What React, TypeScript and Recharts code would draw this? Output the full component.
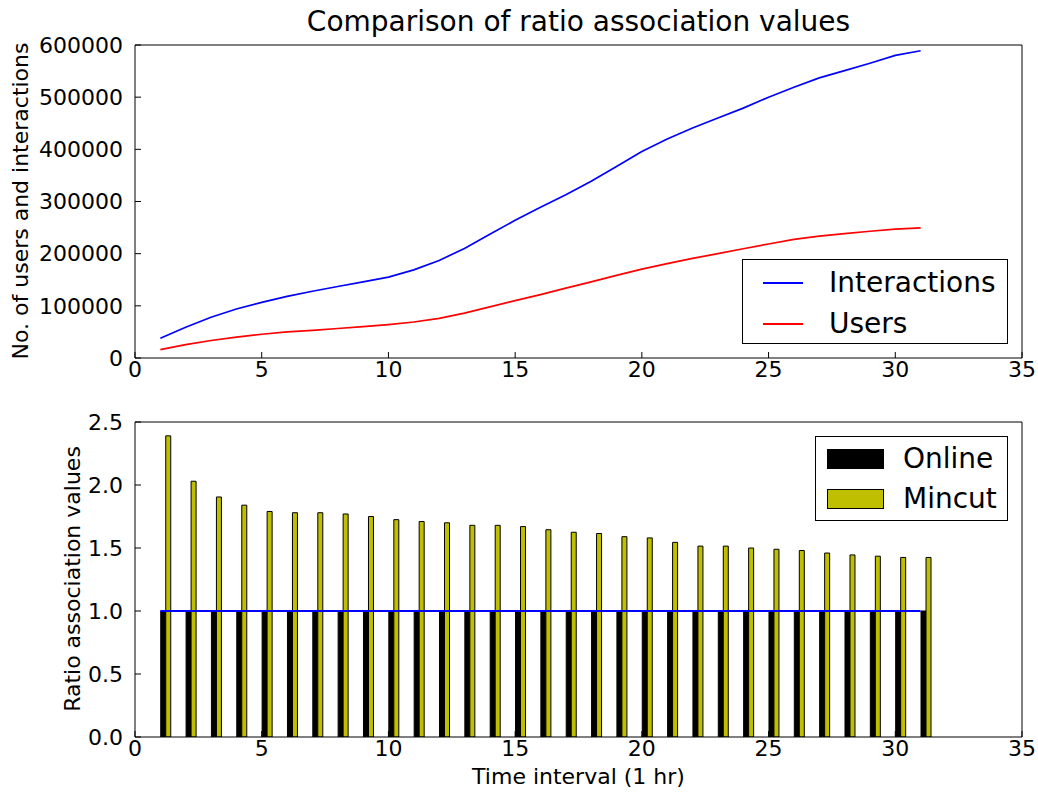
import React from "react";
import { ComposedChart, Line, Bar, XAxis, YAxis, Legend } from "recharts";

const hours = [1, 2, 3, 4, 5, 6, 7, 8, 9, 10, 11, 12, 13, 14, 15, 16, 17, 18, 19, 20, 21, 22, 23, 24, 25, 26, 27, 28, 29, 30, 31];

const interactions = [
  38000, 59000, 78000, 94000, 106500, 118000, 128000, 137000, 146000, 155000,
  169000, 187000, 210000, 237000, 264000, 289000, 313000, 339000, 367000, 396000,
  420000, 441000, 460000, 479000, 500000, 519000, 537000, 551000, 565000, 580000, 589000,
];

const users = [
  16000, 25500, 33500, 40000, 45500, 50000, 53000, 56500, 60000, 64000,
  69000, 76000, 86000, 98000, 110000, 121500, 134000, 146000, 158500, 170500,
  181000, 191000, 200000, 209500, 218500, 227500, 233500, 238500, 243000, 247000, 249500,
];

const online = [1, 1, 1, 1, 1, 1, 1, 1, 1, 1, 1, 1, 1, 1, 1, 1, 1, 1, 1, 1, 1, 1, 1, 1, 1, 1, 1, 1, 1, 1, 1];

const mincut = [
  2.39, 2.03, 1.905, 1.84, 1.79, 1.78, 1.78, 1.77, 1.75, 1.725,
  1.71, 1.7, 1.68, 1.68, 1.67, 1.645, 1.625, 1.615, 1.59, 1.58,
  1.545, 1.515, 1.515, 1.5, 1.49, 1.48, 1.46, 1.445, 1.435, 1.425, 1.425,
];

const xTicks = [0, 5, 10, 15, 20, 25, 30, 35];
const countTicks = [0, 100000, 200000, 300000, 400000, 500000, 600000];
const ratioTicks = [0, 0.5, 1, 1.5, 2, 2.5];

const usageRows = hours.map((h, i) => ({ hour: h, interactions: interactions[i], users: users[i] }));
const ratioRows = hours.map((h, i) => ({ hour: h, online: online[i], mincut: mincut[i] }));

const FONT = "'DejaVu Sans', sans-serif";
const tickStyle = { fill: "#000", fontSize: 22, fontFamily: FONT };

type Item = { name: string; color: string; kind: "line" | "patch" };

const LegendBox = ({ items, width, height, sampleLeft, sampleWidth, textLeft, rows }: {
  items: Item[]; width: number; height: number; sampleLeft: number; sampleWidth: number; textLeft: number; rows: number[];
}) => (
  <div style={{ position: "relative", boxSizing: "border-box", width, height, border: "1.5px solid #000", background: "#fff", fontFamily: FONT, fontSize: 28, color: "#000" }}>
    {items.map((it, i) => (
      <div key={it.name} style={{ position: "absolute", left: 0, top: rows[i] - 20, height: 40, width: "100%" }}>
        {it.kind === "line" ? (
          <div style={{ position: "absolute", left: sampleLeft, top: 19, width: sampleWidth, height: 2, background: it.color }} />
        ) : (
          <div style={{ position: "absolute", left: sampleLeft, top: 10, width: sampleWidth, height: 20, boxSizing: "border-box", background: it.color, border: "1.5px solid #000" }} />
        )}
        <div style={{ position: "absolute", left: textLeft, top: 0, height: 40, lineHeight: "40px", whiteSpace: "nowrap" }}>{it.name}</div>
      </div>
    ))}
  </div>
);

const topLegend: Item[] = [
  { name: "Interactions", color: "#0000ff", kind: "line" },
  { name: "Users", color: "#ff0000", kind: "line" },
];
const bottomLegend: Item[] = [
  { name: "Online", color: "#000000", kind: "patch" },
  { name: "Mincut", color: "#bfbf00", kind: "patch" },
];

export default function App() {
  return (
    <div style={{ position: "absolute", left: 0, top: 0, width: 1038, height: 793, background: "#fff", fontFamily: FONT, color: "#000" }}>
      <div style={{ position: "absolute", left: 578.5, top: 21, transform: "translate(-50%,-50%)", fontSize: 28, whiteSpace: "nowrap" }}>
        Comparison of ratio association values
      </div>
      <div style={{ position: "absolute", left: 20, top: 201, transform: "translate(-50%,-50%) rotate(-90deg)", fontSize: 22, whiteSpace: "nowrap" }}>
        No. of users and interactions
      </div>
      <div style={{ position: "absolute", left: 72, top: 579, transform: "translate(-50%,-50%) rotate(-90deg)", fontSize: 22, whiteSpace: "nowrap" }}>
        Ratio association values
      </div>
      <div style={{ position: "absolute", left: 578.5, top: 776, transform: "translate(-50%,-50%)", fontSize: 22, whiteSpace: "nowrap" }}>
        Time interval (1 hr)
      </div>

      <div style={{ position: "absolute", left: 0, top: 0 }}>
        <ComposedChart width={1038} height={400} data={usageRows} margin={{ top: 44, right: 15, bottom: 0, left: 0 }}>
          <XAxis dataKey="hour" type="number" domain={[0, 35]} ticks={xTicks} interval={0} allowDataOverflow
            height={42} tickSize={-6} tickMargin={9} stroke="#000" tick={tickStyle} />
          <XAxis xAxisId="top" orientation="top" type="number" domain={[0, 35]} ticks={xTicks} interval={0} allowDataOverflow
            height={1} tickSize={-6} tick={false} stroke="#000" />
          <YAxis type="number" domain={[0, 600000]} ticks={countTicks} interval={0} allowDataOverflow
            width={135} tickSize={-6} tickMargin={18} stroke="#000" tick={tickStyle} />
          <YAxis yAxisId="right" orientation="right" type="number" domain={[0, 600000]} ticks={countTicks} interval={0} allowDataOverflow
            width={1} tickSize={-6} tick={false} stroke="#000" />
          <Line dataKey="interactions" name="Interactions" stroke="#0000ff" strokeWidth={1.7} dot={false} type="linear" isAnimationActive={false} />
          <Line dataKey="users" name="Users" stroke="#ff0000" strokeWidth={1.7} dot={false} type="linear" isAnimationActive={false} />
          <Legend layout="vertical" align="center" verticalAlign="middle"
            wrapperStyle={{ left: 742, top: 259, width: 266, height: 85 }}
            content={() => <LegendBox items={topLegend} width={266} height={85} sampleLeft={20} sampleWidth={40} textLeft={86} rows={[23, 64]} />} />
        </ComposedChart>
      </div>

      <div style={{ position: "absolute", left: 0, top: 380 }}>
        <ComposedChart width={1038} height={413} data={ratioRows} margin={{ top: 41, right: 15, bottom: 0, left: 0 }} barGap={0}>
          <XAxis dataKey="hour" type="number" domain={[0, 35]} ticks={xTicks} interval={0} allowDataOverflow
            height={56} tickSize={-6} tickMargin={9} stroke="#000" tick={tickStyle} />
          <XAxis xAxisId="top" orientation="top" type="number" domain={[0, 35]} ticks={xTicks} interval={0} allowDataOverflow
            height={1} tickSize={-6} tick={false} stroke="#000" />
          <XAxis xAxisId="bars" dataKey="hour" type="number" domain={[-0.2, 34.8]} allowDataOverflow hide />
          <YAxis type="number" domain={[0, 2.5]} ticks={ratioTicks} interval={0} allowDataOverflow
            width={135} tickSize={-6} tickMargin={18} stroke="#000" tick={tickStyle} tickFormatter={(v: number) => v.toFixed(1)} />
          <YAxis yAxisId="right" orientation="right" type="number" domain={[0, 2.5]} ticks={ratioTicks} interval={0} allowDataOverflow
            width={1} tickSize={-6} tick={false} stroke="#000" />
          <Bar xAxisId="bars" dataKey="online" name="Online" fill="#000000" stroke="#000" strokeWidth={1} barSize={5} isAnimationActive={false} />
          <Bar xAxisId="bars" dataKey="mincut" name="Mincut" fill="#bfbf00" stroke="#000" strokeWidth={1} barSize={5} isAnimationActive={false} />
          <Line dataKey="online" stroke="#0000ff" strokeWidth={2} dot={false} type="linear" legendType="none" isAnimationActive={false} />
          <Legend layout="vertical" align="center" verticalAlign="middle"
            wrapperStyle={{ left: 815, top: 56, width: 193, height: 85 }}
            content={() => <LegendBox items={bottomLegend} width={193} height={85} sampleLeft={11} sampleWidth={57} textLeft={87} rows={[22, 62]} />} />
        </ComposedChart>
      </div>
    </div>
  );
}
